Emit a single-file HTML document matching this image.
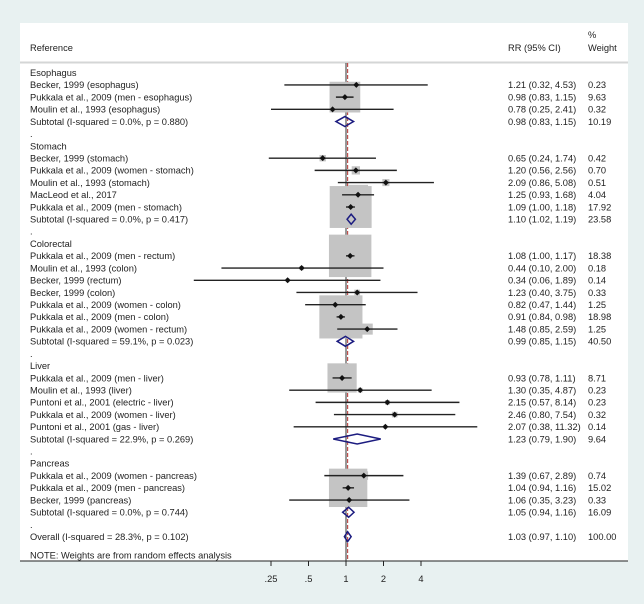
<!DOCTYPE html>
<html><head><meta charset="utf-8"><style>
body{margin:0;background:#e8f1f1;}
svg{display:block;font-family:"Liberation Sans",sans-serif;}
</style></head><body>
<svg id="chart" width="644" height="604" viewBox="0 0 644 604" xmlns="http://www.w3.org/2000/svg">
<rect x="20" y="23" width="608" height="538" fill="#ffffff"/>
<line x1="20" y1="62.5" x2="628" y2="62.5" stroke="#d4d6d6" stroke-width="2"/>
<g font-size="9.3" fill="#222">
<text x="30" y="51">Reference</text>
<text x="508" y="51">RR (95% CI)</text>
<text x="588" y="38">%</text>
<text x="588" y="51">Weight</text>
</g>
<g id="lines"></g><g id="boxes"></g><g id="marks"></g><g id="labels" font-size="9.3" fill="#222"></g><g id="axis"></g>
</svg>
<script>
// row types: h=heading, s=study, t=subtotal, d=spacer dot, o=overall, n=note
const rowLabels = ["Esophagus","Becker, 1999 (esophagus)","Pukkala et al., 2009 (men - esophagus)","Moulin et al., 1993 (esophagus)","Subtotal  (I-squared = 0.0%, p = 0.880)",".",
"Stomach","Becker, 1999 (stomach)","Pukkala et al., 2009 (women - stomach)","Moulin et al., 1993 (stomach)","MacLeod et al., 2017","Pukkala et al., 2009 (men - stomach)","Subtotal  (I-squared = 0.0%, p = 0.417)",".",
"Colorectal","Pukkala et al., 2009 (men - rectum)","Moulin et al., 1993 (colon)","Becker, 1999 (rectum)","Becker, 1999 (colon)","Pukkala et al., 2009 (women - colon)","Pukkala et al., 2009 (men - colon)","Pukkala et al., 2009 (women - rectum)","Subtotal  (I-squared = 59.1%, p = 0.023)",".",
"Liver","Pukkala et al., 2009 (men - liver)","Moulin et al., 1993 (liver)","Puntoni et al., 2001 (electric - liver)","Pukkala et al., 2009 (women - liver)","Puntoni et al., 2001 (gas - liver)","Subtotal  (I-squared = 22.9%, p = 0.269)",".",
"Pancreas","Pukkala et al., 2009 (women - pancreas)","Pukkala et al., 2009 (men - pancreas)","Becker, 1999 (pancreas)","Subtotal  (I-squared = 0.0%, p = 0.744)",".",
"Overall  (I-squared = 28.3%, p = 0.102)","NOTE: Weights are from random effects analysis"];
const rowTypes = ["h","s","s","s","t","d","h","s","s","s","s","s","t","d","h","s","s","s","s","s","s","s","t","d","h","s","s","s","s","s","t","d","h","s","s","s","t","d","o","n"];
const rr =    [null,1.21,0.98,0.78,0.98,null,null,0.65,1.20,2.09,1.25,1.09,1.10,null,null,1.08,0.44,0.34,1.23,0.82,0.91,1.48,0.99,null,null,0.93,1.30,2.15,2.46,2.07,1.23,null,null,1.39,1.04,1.06,1.05,null,1.03,null];
const lo =    [null,0.32,0.83,0.25,0.83,null,null,0.24,0.56,0.86,0.93,1.00,1.02,null,null,1.00,0.10,0.06,0.40,0.47,0.84,0.85,0.85,null,null,0.78,0.35,0.57,0.80,0.38,0.79,null,null,0.67,0.94,0.35,0.94,null,0.97,null];
const hi =    [null,4.53,1.15,2.41,1.15,null,null,1.74,2.56,5.08,1.68,1.18,1.19,null,null,1.17,2.00,1.89,3.75,1.44,0.98,2.59,1.15,null,null,1.11,4.87,8.14,7.54,11.32,1.90,null,null,2.89,1.16,3.23,1.16,null,1.10,null];
const weights=[null,0.23,9.63,0.32,10.19,null,null,0.42,0.70,0.51,4.04,17.92,23.58,null,null,18.38,0.18,0.14,0.33,1.25,18.98,1.25,40.50,null,null,8.71,0.23,0.23,0.32,0.14,9.64,null,null,0.74,15.02,0.33,16.09,null,100.00,null];
const tickValues = [0.25,0.5,1,2,4];
const tickLabels = [".25",".5","1","2","4"];

const NS="http://www.w3.org/2000/svg";
const X0=346, PX=37.5, Y0=72.7, DY=12.21;
const xs=v=>X0+PX*Math.log2(v);
const ys=i=>rowTypes[i]==='n'?555:Y0+i*DY;
function mk(tag,attrs,parent){const e=document.createElementNS(NS,tag);for(const k in attrs)e.setAttribute(k,attrs[k]);parent.appendChild(e);return e;}
const gL=document.getElementById('lines'),gB=document.getElementById('boxes'),gM=document.getElementById('marks'),gT=document.getElementById('labels'),gA=document.getElementById('axis');
const f2=v=>v.toFixed(2);

let l=mk('line',{x1:xs(1),x2:xs(1),y1:63,y2:561,stroke:'#333','stroke-width':1},gL);


const oi=rowTypes.indexOf('o');
l=mk('line',{x1:xs(rr[oi]),x2:xs(rr[oi]),y1:63,y2:561,stroke:'#c0504d','stroke-width':1.2,'stroke-dasharray':'4,2'},gL);



rowLabels.forEach((lab,i)=>{
  const y=ys(i), t=rowTypes[i];
  const tx=mk('text',{x:30,y:y+3.3},gT); tx.textContent=lab;
  
  
  if(rr[i]!=null){
    const vt=mk('text',{x:508,y:y+3.3},gT); vt.textContent=f2(rr[i])+" ("+f2(lo[i])+", "+f2(hi[i])+")";
    
    
    const wt=mk('text',{x:588,y:y+3.3},gT); wt.textContent=f2(weights[i]);
    
    
  }
  if(t==='s'){
    const s=9.9*Math.sqrt(weights[i]);
    const b=mk('rect',{x:xs(rr[i])-s/2,y:y-s/2,width:s,height:s,fill:'#c4c4c4'},gB);
    
    
    const c=mk('line',{x1:xs(lo[i]),x2:xs(hi[i]),y1:y,y2:y,stroke:'#222','stroke-width':1.4},gM);
    
    
    const px=xs(rr[i]);
    const d=mk('path',{d:`M${px-3},${y}L${px},${y-3}L${px+3},${y}L${px},${y+3}Z`,fill:'#111'},gM);
    
    
  } else if(t==='t'||t==='o'){
    const a=xs(lo[i]),m=xs(rr[i]),b2=xs(hi[i]);
    const d=mk('path',{d:`M${a},${y}L${m},${y-5}L${b2},${y}L${m},${y+5}Z`,fill:'none',stroke:'#1c1c80','stroke-width':1.5},gM);
    
    
  }
});

l=mk('line',{x1:20,x2:628,y1:561,y2:561,stroke:'#222','stroke-width':1},gA);


tickValues.forEach((v,k)=>{
  const x=xs(v);
  const tk=mk('line',{x1:x,x2:x,y1:561,y2:566,stroke:'#222','stroke-width':1},gA);
  
  
  const tl=mk('text',{x:x,y:582,'text-anchor':'middle','font-size':9.3,fill:'#222'},gA);
  tl.textContent=tickLabels[k];
  
  
});
</script>
</body></html>
